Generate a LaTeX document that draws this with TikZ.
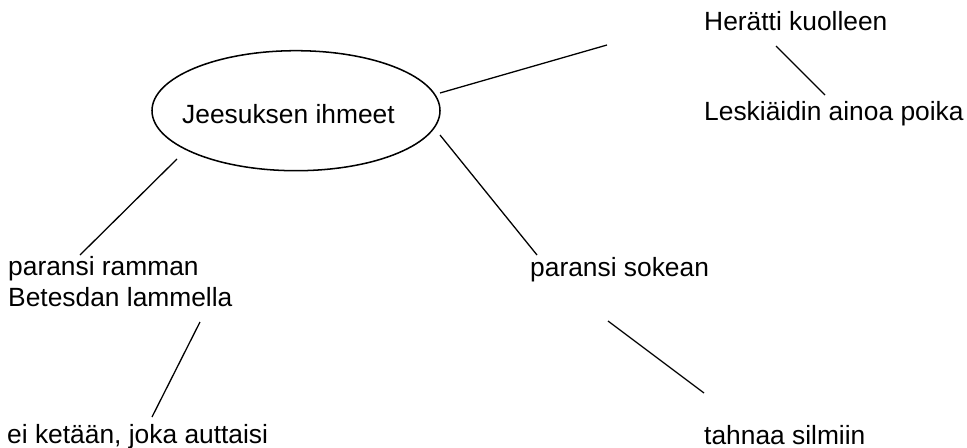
\documentclass[tikz,border=0pt]{standalone}
\usepackage{fontspec}
\setmainfont{Liberation Sans}
\usetikzlibrary{shapes.geometric}
\tikzset{
  >=latex,
}
\tikzstyle{every node}=[font=\fontsize{22.5}{26.4}\selectfont]
\tikzstyle{txt}=[anchor=base west,inner sep=0pt]
\tikzstyle{link}=[line width=1.1pt]
\tikzstyle{bubble}=[draw,ellipse,line width=1.3pt,inner sep=0pt,minimum width=8.64cm,minimum height=3.6cm]

\begin{document}
\begin{tikzpicture}[x=0.03cm,y=-0.03cm]
    \useasboundingbox (0,0) rectangle (967,448);
    \node[bubble] (ihmeet) at (296,110.7) {};
    \node[txt] (otsikko) at (182,123) {Jeesuksen ihmeet};
    \node[txt] (herätti) at (704,31) {Herätti kuolleen};
    \node[txt] (leski) at (704,120) {Leskiäidin ainoa poika};
    \node[txt] (sokea) at (530,276) {paransi sokean};
    \node[txt] (tahna) at (704,444) {tahnaa silmiin};
    \node[txt,align=left] (rampa) at (8,306) {paransi ramman\\Betesdan lammella};
    \node[txt] (kukaan) at (7,443) {ei ketään, joka auttaisi};
    % line ends
    \coordinate (a1) at (440,93);   \coordinate (a2) at (607,45);
    \coordinate (b1) at (776,46);   \coordinate (b2) at (825,95);
    \coordinate (c1) at (440,135);  \coordinate (c2) at (537,255);
    \coordinate (d1) at (608,321);  \coordinate (d2) at (704,393);
    \coordinate (e1) at (177,159);  \coordinate (e2) at (80,255);
    \coordinate (f1) at (200,322);  \coordinate (f2) at (152,417);
    \draw[link] (a1)--(a2);
    \draw[link] (b1)--(b2);
    \draw[link] (c1)--(c2);
    \draw[link] (d1)--(d2);
    \draw[link] (e1)--(e2);
    \draw[link] (f1)--(f2);
\end{tikzpicture}
\end{document}
